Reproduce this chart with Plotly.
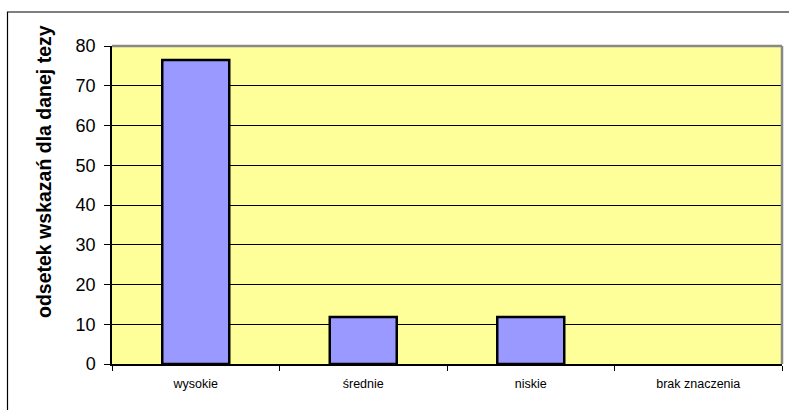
import plotly.graph_objects as go

categories = ["wysokie", "średnie", "niskie", "brak znaczenia"]
values = [76.5, 11.8, 11.8, 0]
y_title = "odsetek wskazań dla danej tezy"

W, H = 789, 410
L, R, T, B = 112, 7, 46, 46
pw, ph = W - L - R, H - T - B

def px_x(p):
    return (p - L) / pw

def px_y(p):
    return 1 - (p - T) / ph

fig = go.Figure()
fig.add_trace(go.Bar(
    x=categories, y=values, width=0.4,
    marker=dict(color="#9999FF",
                line=dict(color="black", width=[2.5 if v > 0 else 0 for v in values])),
))

fig.update_layout(
    width=W, height=H,
    margin=dict(l=L, r=R, t=T, b=B, pad=0),
    paper_bgcolor="white", plot_bgcolor="#FFFF99",
    showlegend=False,
    font=dict(family="Liberation Sans, Arial", color="black"),
    xaxis=dict(
        type="category", tickson="boundaries", ticks="outside", ticklen=5,
        tickcolor="black", showline=True, linecolor="black", linewidth=1.5,
        showgrid=False, tickfont=dict(size=12.5), range=[-0.5, 3.5],
        ticklabelstandoff=7,
    ),
    yaxis=dict(
        range=[0, 80], dtick=10, ticks="outside", ticklen=6, tickcolor="black",
        showline=True, linecolor="black", linewidth=1.5,
        showgrid=True, gridcolor="black", gridwidth=1,
        tickfont=dict(size=18), zeroline=False, ticklabelstandoff=5,
    ),
    annotations=[dict(
        text="<b>" + y_title + "</b>", textangle=-90, showarrow=False,
        xref="paper", yref="paper", x=px_x(44), y=px_y(172),
        xanchor="center", yanchor="middle", font=dict(size=19.5),
    )],
    shapes=[
        dict(type="line", xref="paper", yref="paper", x0=0, x1=1, y0=1, y1=1,
             line=dict(color="#888888", width=2.5)),
        dict(type="line", xref="paper", yref="paper", x0=1, x1=1, y0=0, y1=1,
             line=dict(color="#888888", width=2.5)),
        dict(type="rect", xref="paper", yref="paper",
             x0=px_x(7.5), x1=px_x(900), y0=px_y(12), y1=px_y(500),
             line=dict(color="black", width=1.2), layer="below"),
    ],
)

fig.write_html("out.html")
